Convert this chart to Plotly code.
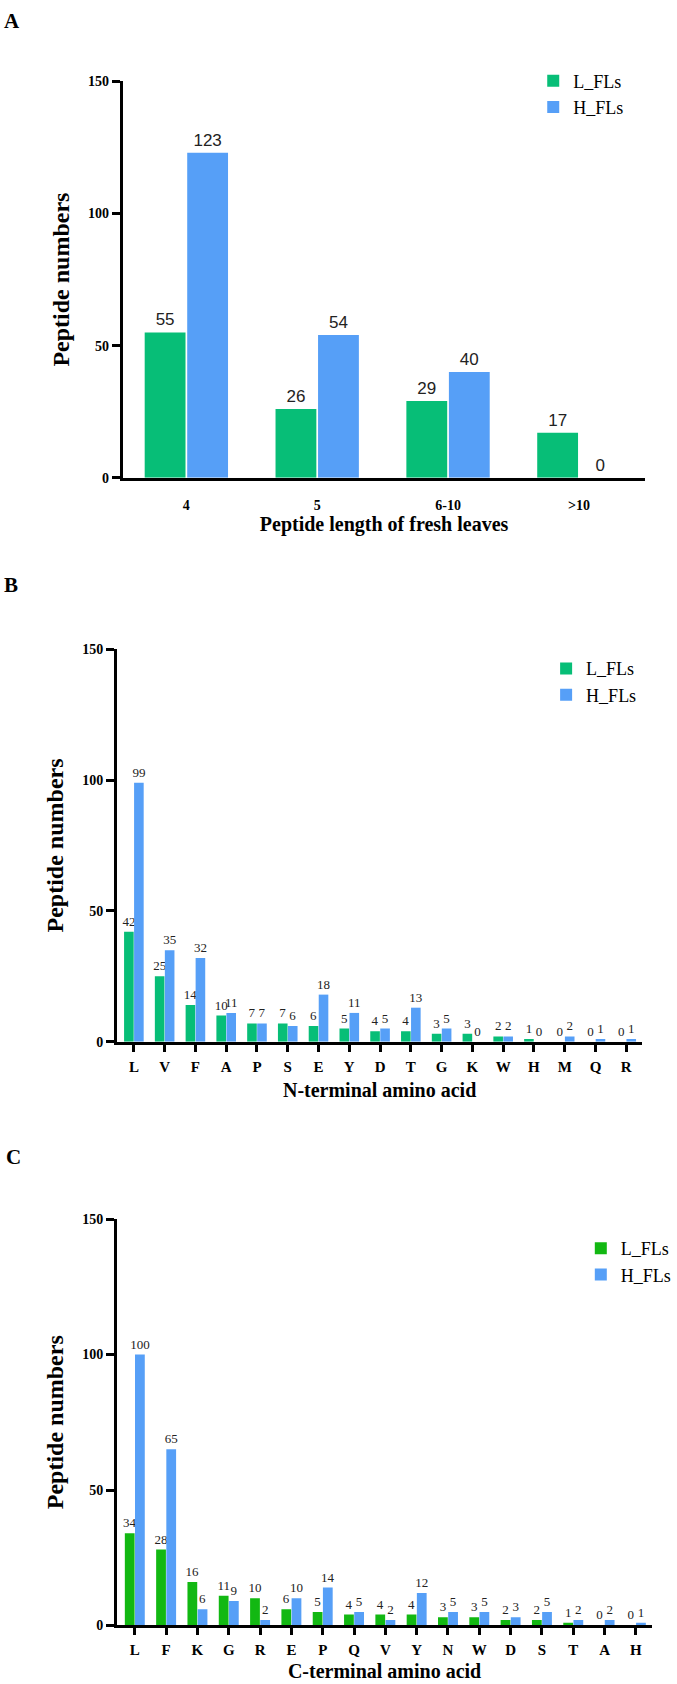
import plotly.graph_objects as go

# ---------------- data ----------------
len_cats = ["4", "5", "6-10", ">10"]
len_L = [55, 26, 29, 17]
len_H = [123, 54, 40, 0]

n_cats = ["L", "V", "F", "A", "P", "S", "E", "Y", "D", "T", "G", "K", "W", "H", "M", "Q", "R"]
n_L = [42, 25, 14, 10, 7, 7, 6, 5, 4, 4, 3, 3, 2, 1, 0, 0, 0]
n_H = [99, 35, 32, 11, 7, 6, 18, 11, 5, 13, 5, 0, 2, 0, 2, 1, 1]

c_cats = ["L", "F", "K", "G", "R", "E", "P", "Q", "V", "Y", "N", "W", "D", "S", "T", "A", "H"]
c_L = [34, 28, 16, 11, 10, 6, 5, 4, 4, 4, 3, 3, 2, 2, 1, 0, 0]
c_H = [100, 65, 6, 9, 2, 10, 14, 5, 2, 12, 5, 5, 3, 5, 2, 2, 1]

y_ticks = [0, 50, 100, 150]

# ---------------- styles ----------------
W, H = 677, 1684
SERIF = "Liberation Serif, Times New Roman, serif"
NARROW = "Liberation Sans Narrow, Arial Narrow, Liberation Sans, sans-serif"
GREEN = "#07BE77"
GREEN_C = "#12B812"
BLUE = "#569FF7"


def px_x(v):
    return v / W


def px_y(v):
    return 1 - v / H


fig = go.Figure()

panels = [
    dict(cats=len_cats, L=len_L, Hh=len_H, green=GREEN, xa="x", ya="y", leg="legend",
         lab_font=dict(family=NARROW, size=17, color="#222")),
    dict(cats=n_cats, L=n_L, Hh=n_H, green=GREEN, xa="x2", ya="y2", leg="legend2",
         lab_font=dict(family=SERIF, size=13, color="#222")),
    dict(cats=c_cats, L=c_L, Hh=c_H, green=GREEN_C, xa="x3", ya="y3", leg="legend3",
         lab_font=dict(family=SERIF, size=13, color="#222")),
]

for p in panels:
    fig.add_trace(go.Bar(x=p["cats"], y=p["L"], name="L_FLs", marker=dict(color=p["green"], line=dict(width=0)),
                         text=p["L"], textposition="outside", textfont=p["lab_font"], constraintext="none",
                         cliponaxis=False, xaxis=p["xa"], yaxis=p["ya"], legend=p["leg"]))
    fig.add_trace(go.Bar(x=p["cats"], y=p["Hh"], name="H_FLs", marker=dict(color=BLUE, line=dict(width=0)),
                         text=p["Hh"], textposition="outside", textfont=p["lab_font"], constraintext="none",
                         cliponaxis=False, xaxis=p["xa"], yaxis=p["ya"], legend=p["leg"]))

# plot areas in pixels: (left, right, top, bottom)
areas = {
    "A": (124, 651, 75, 475),
    "B": (118, 648, 648, 1044),
    "C": (118, 658, 1223, 1633),
}

xtitles = ["Peptide length of fresh leaves", "N-terminal amino acid", "C-terminal amino acid"]
xranges = [[-0.485, 3.507], [-0.55, 16.52], [-0.57, 16.52]]
xstand = [4, 10, 7]

common_y = dict(range=[0, 150], tickvals=y_ticks, ticks="outside", ticklen=8, tickwidth=3, tickcolor="black",
                showline=True, linewidth=3, linecolor="black", showgrid=False, zeroline=False,
                tickfont=dict(family=SERIF, size=14, color="black", weight="bold"),
                title=dict(text="Peptide numbers", font=dict(family=SERIF, size=24, color="black", weight="bold"),
                           standoff=12))

for i, key in enumerate(["A", "B", "C"]):
    l, r, t, b = areas[key]
    sfx = "" if i == 0 else str(i + 1)
    xa = dict(domain=[px_x(l), px_x(r)], range=xranges[i], type="category",
              showline=True, linewidth=3, linecolor="black", showgrid=False, zeroline=False,
              tickfont=dict(family=SERIF, size=14 if i == 0 else 15, color="black", weight="bold"),
              title=dict(text=xtitles[i], font=dict(family=SERIF, size=20, color="black", weight="bold"),
                         standoff=xstand[i]),
              anchor="y" + sfx)
    if i == 0:
        xa.update(ticks="", ticklabelstandoff=12)
    else:
        xa.update(ticks="outside", ticklen=7, tickwidth=3, tickcolor="black", ticklabelstandoff=2)
    ya = dict(common_y)
    ya.update(domain=[px_y(b), px_y(t)], anchor="x" + sfx)
    fig.update_layout(**{"xaxis" + sfx: xa, "yaxis" + sfx: ya})

legend_base = dict(font=dict(family=SERIF, size=18, color="black"), bgcolor="rgba(0,0,0,0)",
                   xanchor="left", yanchor="top", tracegroupgap=0, itemclick=False)
fig.update_layout(
    legend=dict(legend_base, x=px_x(538), y=px_y(56)),
    legend2=dict(legend_base, x=px_x(551), y=px_y(649)),
    legend3=dict(legend_base, x=px_x(586), y=px_y(1234)),
)

for letter, (lx, ly) in zip(["A", "B", "C"], [(2, 0), (2, 569), (4, 1146)]):
    fig.add_annotation(text=letter, x=px_x(lx), y=px_y(ly), xref="paper", yref="paper",
                       xanchor="left", yanchor="top", showarrow=False,
                       font=dict(family=SERIF, size=21, color="black", weight="bold"))

fig.update_layout(width=W, height=H, margin=dict(l=0, r=0, t=0, b=0), barmode="group",
                  bargap=0.35, bargroupgap=0.04, plot_bgcolor="white", paper_bgcolor="white",
                  showlegend=True)

fig.write_html("out.html")
